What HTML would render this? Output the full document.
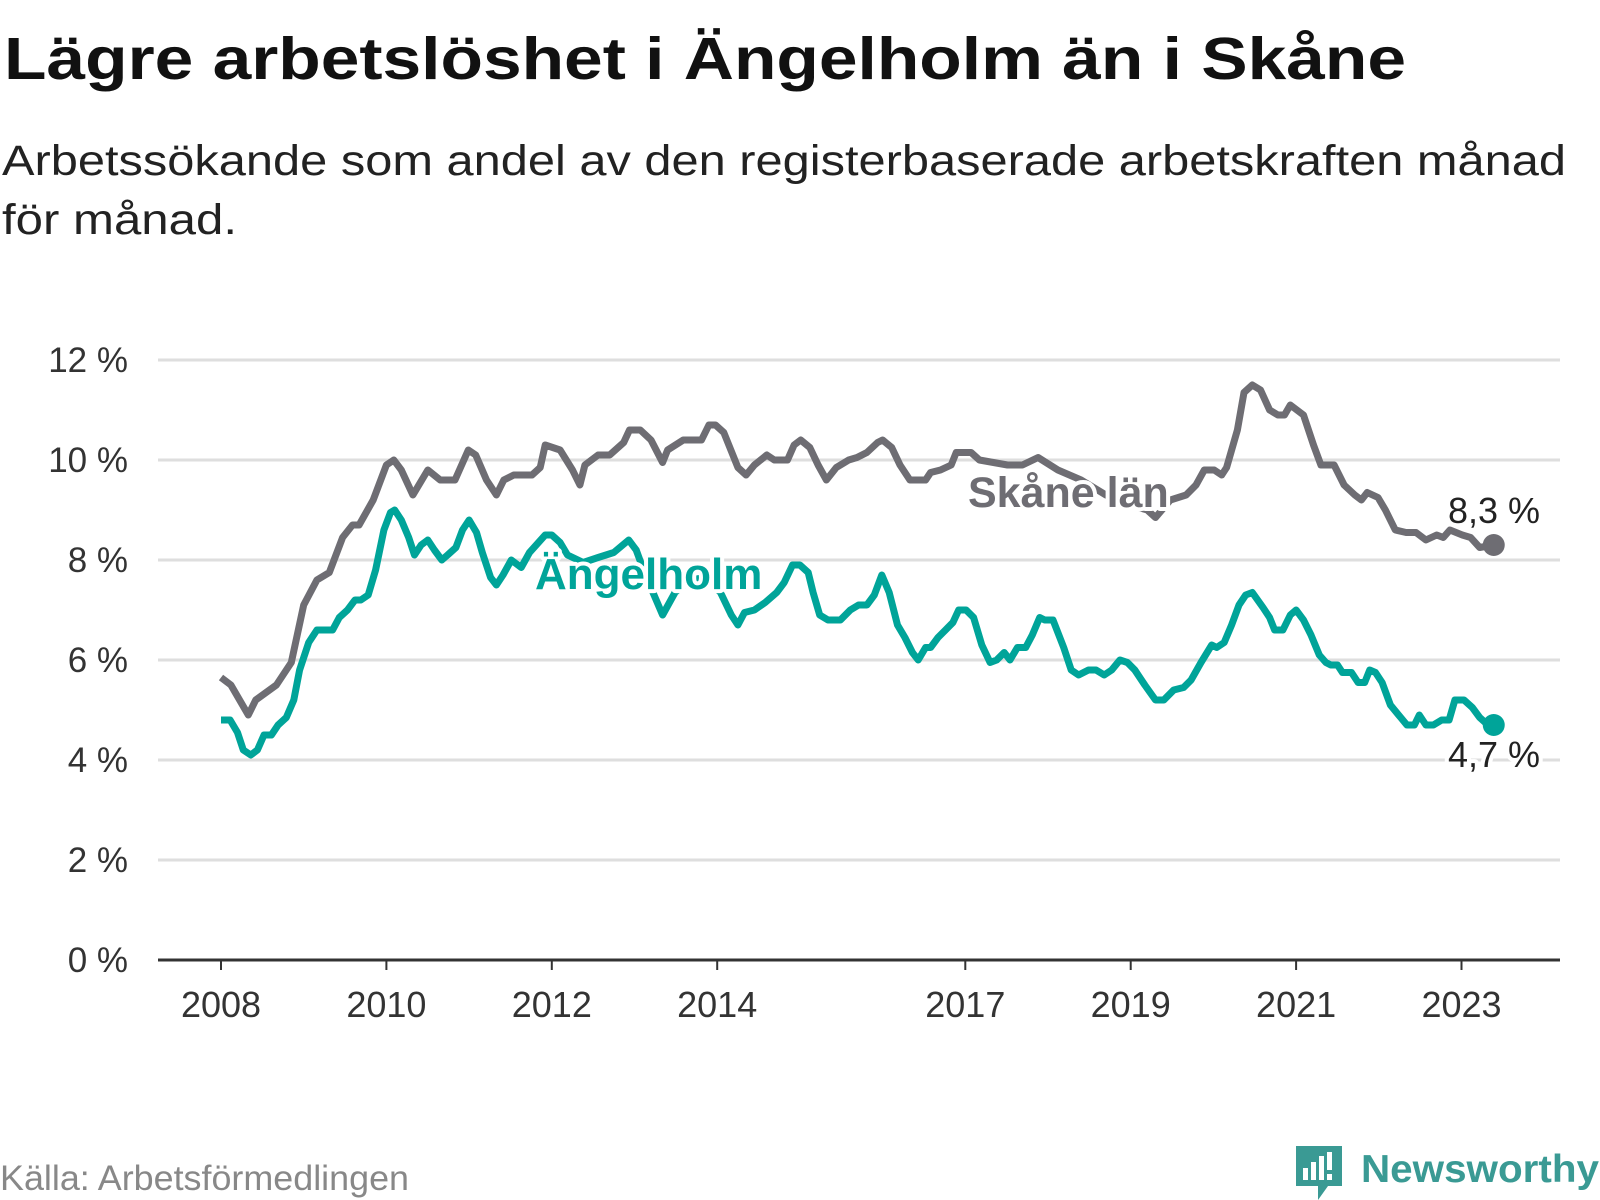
<!DOCTYPE html>
<html><head><meta charset="utf-8"><style>
html,body{margin:0;padding:0;background:#fff;}
svg{display:block;font-family:"Liberation Sans",sans-serif;}
</style></head><body>
<svg id="chart" width="1600" height="1200" viewBox="0 0 1600 1200">
<text x="4" y="79" font-size="59" font-weight="bold" fill="#111" textLength="1402" lengthAdjust="spacingAndGlyphs">Lägre arbetslöshet i Ängelholm än i Skåne</text>
<text x="2" y="175" font-size="43" fill="#222" textLength="1564" lengthAdjust="spacingAndGlyphs">Arbetssökande som andel av den registerbaserade arbetskraften månad</text>
<text x="2" y="234" font-size="43" fill="#222" textLength="235" lengthAdjust="spacingAndGlyphs">för månad.</text>
<g id="grid"></g><g id="series"></g><g id="labels"></g>
<text x="0" y="1190" font-size="35" fill="#888" textLength="409" lengthAdjust="spacingAndGlyphs">Källa: Arbetsförmedlingen</text>
<g>
<path d="M1296 1146 h46 v40 h-14 l-10 14 l-0 -14 h-22 z" fill="#3a9a94"/>
<rect x="1303" y="1168" width="5" height="12" fill="#fff"/><rect x="1311" y="1162" width="5" height="18" fill="#fff"/><rect x="1319" y="1156" width="5" height="24" fill="#fff"/><rect x="1327" y="1152" width="5" height="18" fill="#fff"/><rect x="1327" y="1174" width="5" height="6" fill="#fff"/>
<text x="1361" y="1182" font-size="39" font-weight="bold" fill="#3a9a94" textLength="238" lengthAdjust="spacingAndGlyphs">Newsworthy</text>
</g>
</svg>
<script>
const skaneYears=[0,.12,.33,.42,.67,.85,1.0,1.16,1.31,1.47,1.59,1.67,1.84,2.0,2.09,2.18,2.32,2.5,2.65,2.83,2.99,3.08,3.21,3.33,3.42,3.54,3.76,3.86,3.92,4.1,4.25,4.34,4.4,4.56,4.7,4.87,4.94,5.07,5.2,5.34,5.4,5.59,5.81,5.9,5.98,6.08,6.25,6.35,6.45,6.6,6.69,6.85,6.93,7.01,7.12,7.22,7.32,7.44,7.59,7.69,7.81,7.94,8.0,8.11,8.21,8.33,8.52,8.58,8.7,8.83,8.89,9.07,9.17,9.51,9.69,9.88,10.12,10.4,10.7,11.0,11.2,11.3,11.48,11.67,11.79,11.89,12.01,12.1,12.16,12.29,12.37,12.47,12.57,12.68,12.78,12.86,12.93,13.09,13.21,13.3,13.46,13.58,13.71,13.79,13.86,13.99,14.08,14.2,14.33,14.45,14.57,14.7,14.78,14.86,15.01,15.11,15.22,15.39];
const skaneValues=[5.65,5.5,4.9,5.2,5.5,5.95,7.1,7.6,7.75,8.45,8.7,8.7,9.2,9.9,10.0,9.8,9.3,9.8,9.6,9.6,10.2,10.1,9.6,9.3,9.6,9.7,9.7,9.85,10.3,10.2,9.8,9.5,9.9,10.1,10.1,10.35,10.6,10.6,10.4,9.95,10.2,10.4,10.4,10.7,10.7,10.55,9.85,9.7,9.9,10.1,10.0,10.0,10.3,10.4,10.25,9.9,9.6,9.85,10.0,10.05,10.15,10.35,10.4,10.25,9.9,9.6,9.6,9.75,9.8,9.9,10.15,10.15,10.0,9.9,9.9,10.05,9.8,9.6,9.3,9.1,9.0,8.85,9.2,9.3,9.5,9.8,9.8,9.7,9.85,10.6,11.35,11.5,11.4,11.0,10.9,10.9,11.1,10.9,10.3,9.9,9.9,9.5,9.3,9.2,9.35,9.25,9.0,8.6,8.55,8.55,8.4,8.5,8.45,8.6,8.5,8.45,8.25,8.3];
const angelX=[216,225,232,238,245,252,258,265,272,280,287,293,302,310,325,332,340,347,353,360,367,375,382,386,392,400,405,412,418,425,432,438,446,452,459,466,472,480,485,492,500,510,518,533,540,548,555,570,585,600,615,622,630,648,660,675,690,705,715,722,728,738,748,760,767,775,782,790,795,802,810,822,832,840,848,855,862,870,878,885,892,898,905,910,917,925,932,938,945,952,960,968,975,982,988,995,1003,1010,1017,1022,1030,1040,1048,1055,1065,1072,1080,1087,1095,1103,1110,1120,1130,1138,1148,1158,1165,1175,1185,1190,1197,1205,1212,1218,1225,1235,1242,1247,1255,1262,1268,1275,1282,1290,1297,1302,1308,1313,1322,1328,1335,1340,1345,1352,1360,1368,1376,1383,1388,1395,1402,1410,1417,1423,1432,1440,1447,1455,1461];
const angelYears=angelX.map(v=>+((v-216)/80.9).toFixed(2));
const angelValues=[4.8,4.8,4.55,4.2,4.1,4.2,4.5,4.5,4.7,4.85,5.2,5.8,6.35,6.6,6.6,6.85,7.0,7.2,7.2,7.3,7.8,8.6,8.95,9.0,8.8,8.45,8.1,8.3,8.4,8.2,8.0,8.1,8.25,8.6,8.8,8.55,8.15,7.65,7.5,7.7,8.0,7.85,8.15,8.5,8.5,8.35,8.1,7.95,8.05,8.15,8.4,8.2,7.75,6.9,7.35,7.6,7.65,7.35,6.9,6.7,6.95,7.0,7.15,7.35,7.55,7.9,7.9,7.75,7.35,6.9,6.8,6.8,7.0,7.1,7.1,7.3,7.7,7.35,6.7,6.45,6.15,6.0,6.25,6.25,6.45,6.6,6.75,7.0,7.0,6.85,6.3,5.95,6.0,6.15,6.0,6.25,6.25,6.5,6.85,6.8,6.8,6.25,5.8,5.7,5.8,5.8,5.7,5.8,6.0,5.95,5.8,5.5,5.2,5.2,5.4,5.45,5.6,5.95,6.3,6.25,6.35,6.7,7.1,7.3,7.35,7.05,6.85,6.6,6.6,6.9,7.0,6.8,6.5,6.1,5.95,5.9,5.9,5.75,5.75,5.55,5.55,5.8,5.75,5.55,5.1,4.9,4.7,4.7,4.9,4.7,4.7,4.8,4.8,5.2,5.2,5.05,4.85,4.7,4.7];
const yTicks=[0,2,4,6,8,10,12];
const yTickLabels=["0 %","2 %","4 %","6 %","8 %","10 %","12 %"];
const xTicks=[2008,2010,2012,2014,2017,2019,2021,2023];
const xTickLabels=["2008","2010","2012","2014","2017","2019","2021","2023"];

const NS="http://www.w3.org/2000/svg";
const X0=221,YW=82.7,Y0=960,PU=50;
function xs(yr){return X0+yr*YW;}
function xYear(y){return X0+(y-2008)*YW;}
function ys(v){return Y0-v*PU;}
function mk(tag,attrs,parent){const e=document.createElementNS(NS,tag);for(const k in attrs)e.setAttribute(k,attrs[k]);parent.appendChild(e);return e;}
const grid=document.getElementById('grid'),series=document.getElementById('series'),labels=document.getElementById('labels');
yTicks.forEach((t,i)=>{
  if(t>0){const l=mk('line',{x1:158,x2:1560,y1:ys(t),y2:ys(t),stroke:'#dedede','stroke-width':3},grid);
  
  }
  const tx=mk('text',{x:128,y:ys(t)+12,'font-size':35,fill:'#333','text-anchor':'end'},grid);
  tx.textContent=yTickLabels[i];
  
  
});
const ax=mk('line',{x1:158,x2:1560,y1:Y0,y2:Y0,stroke:'#333','stroke-width':3},grid);


xTicks.forEach((t,i)=>{
  mk('line',{x1:xYear(t),x2:xYear(t),y1:Y0,y2:Y0+10,stroke:'#333','stroke-width':2},grid);
  const tx=mk('text',{x:xYear(t),y:1017,'font-size':36,fill:'#333','text-anchor':'middle'},grid);
  tx.textContent=xTickLabels[i];
  
  
});
function line(yrs,vals,color,name){
  const d=yrs.map((y,i)=>(i?'L':'M')+xs(y).toFixed(1)+' '+ys(vals[i]).toFixed(1)).join(' ');
  const p=mk('path',{d:d,fill:'none',stroke:color,'stroke-width':7,'stroke-linejoin':'round'},series);
  
  
  const n=yrs.length-1;
  const c=mk('circle',{cx:xs(yrs[n]),cy:ys(vals[n]),r:11,fill:color},series);
  
  
}
line(skaneYears,skaneValues,'#6e6d73','skane');
line(angelYears,angelValues,'#00a499','angelholm');
function lab(x,y,txt,size,color,bold,name){
  const t=mk('text',{x:x,y:y,'font-size':size,fill:color,'font-weight':bold?'bold':'normal',stroke:'#fff','stroke-width':8,'paint-order':'stroke','stroke-linejoin':'round'},labels);
  t.textContent=txt;
  
  
}
lab(968,507,'Skåne län',43,'#6e6d73',true,'skane-label');
lab(535,589,'Ängelholm',44,'#00a499',true,'angelholm-label');
lab(1448,523,'8,3 %',36,'#222',false,'skane-end-value');
lab(1448,767,'4,7 %',36,'#222',false,'angelholm-end-value');
</script>
</body></html>
